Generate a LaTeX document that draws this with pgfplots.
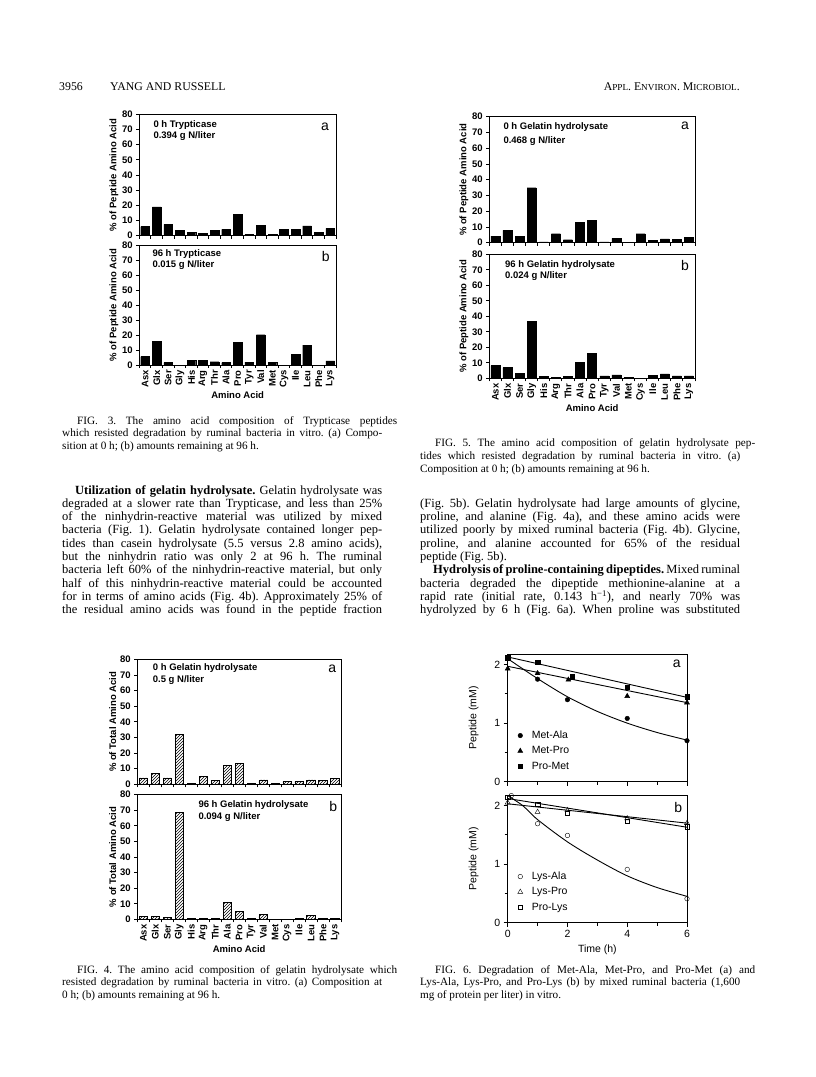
\documentclass[border=0pt]{standalone}
\usepackage{fontspec}
\setmainfont{Liberation Serif}
\newfontfamily\chartfont{Liberation Sans}
\usepackage{pgfplots}
\pgfplotsset{compat=1.18}
\usetikzlibrary{patterns}
\frenchspacing
\newcommand\cf{\chartfont\bfseries\fontsize{9.5}{11}\selectfont}
\newcommand\cfr{\chartfont\fontsize{10.5}{12}\selectfont}
\newcommand\lf{\chartfont\fontsize{14}{14}\selectfont}
\newcommand\bodyf{\frenchspacing\fontsize{12.5}{13.3}\selectfont}
\newcommand\capf{\frenchspacing\fontsize{11.2}{12.5}\selectfont}
\newcommand\JL[3]{\node[anchor=base west,inner sep=0pt,font=\bodyf] at (#1pt,-#2pt) {\makebox[320pt][s]{#3}};}
\newcommand\LL[3]{\node[anchor=base west,inner sep=0pt,font=\bodyf] at (#1pt,-#2pt) {#3};}
\newcommand\JC[3]{\node[anchor=base west,inner sep=0pt,font=\capf] at (#1pt,-#2pt) {\makebox[320pt][s]{#3}};}
\newcommand\LC[3]{\node[anchor=base west,inner sep=0pt,font=\capf] at (#1pt,-#2pt) {#3};}
\newcommand\CT[3]{\node[anchor=west,inner sep=0pt,font=\cf] at (#1pt,-#2pt) {#3};}
\newcommand\PL[3]{\node[anchor=center,inner sep=0pt,font=\lf] at (#1pt,-#2pt) {#3};}

\pgfplotsset{
 barbase/.style={
   scale only axis,
   xmin=0.5, xmax=17.5, ymin=0, ymax=80,
   ytick={0,10,...,80},
   xtick={1,...,17},
   minor xtick={0.5,1.5,...,17.5},
   major x tick style={draw=none},
   tick align=outside, xtick pos=bottom, ytick pos=left,
   major tick length=3pt, minor tick length=3pt,
   tick style={black, line width=0.9pt},
   axis line style={line width=1pt},
   ybar, bar width=8.7pt,
   tick label style={font=\cf},
   /pgf/number format/assume math mode=true,
   label style={font=\cf},
   ylabel style={yshift=-3pt},
   xticklabel style={inner sep=2pt},
 },
 nolab/.style={xticklabels={}},
 aalab/.style={xticklabels={Asx,Glx,Ser,Gly,His,Arg,Thr,Ala,Pro,Tyr,Val,Met,Cys,Ile,Leu,Phe,Lys},
    xticklabel style={rotate=90, anchor=east}, xlabel={Amino Acid}, xlabel style={yshift=2pt}},
 linebase/.style={
   scale only axis, width=179.3pt, height=127.7pt,
   xmin=0, xmax=6, ymin=0, ymax=2.18,
   xtick={0,2,4,6}, minor xtick={1,3,5},
   ytick={0,1,2}, minor ytick={0.5,1.5},
   tick align=outside, xtick pos=bottom, ytick pos=left,
   major tick length=4pt, minor tick length=3pt,
   tick style={black, line width=0.9pt},
   axis line style={line width=1pt},
   tick label style={font=\cfr},
   /pgf/number format/assume math mode=true,
   label style={font=\cfr},
   ylabel style={yshift=9pt},
   clip=false,
   legend style={draw=none, fill=none, font=\cfr, row sep=2.5pt, inner sep=0pt,
      cells={anchor=west}, at={(0.055,0.07)}, anchor=south west},
   legend cell align=left,
   legend image code/.code={\draw[#1] plot coordinates {(0pt,0pt)};},
   /tikz/every odd column/.style={column sep=7pt},
 },
}

\begin{document}
\begin{tikzpicture}[x=1pt,y=1pt]
\path[use as bounding box, fill=white] (0,0) rectangle (816,-1077);

% ---------------- header
\node[anchor=base west,inner sep=0pt,font=\fontsize{11.8}{13}\selectfont] at (59,-90) {3956};
\node[anchor=base west,inner sep=0pt,font=\fontsize{11.8}{13}\selectfont] at (110,-90) {YANG AND RUSSELL};
\node[anchor=base east,inner sep=0pt,font=\fontsize{11.8}{13}\selectfont] at (740,-90) {A{\fontsize{9.2}{10}\selectfont PPL}. E{\fontsize{9.2}{10}\selectfont NVIRON}. M{\fontsize{9.2}{10}\selectfont ICROBIOL}.};

% ---------------- FIG 3a
\begin{axis}[barbase, nolab, at={(139.3pt,-235.7pt)}, anchor=south west,
  width=196.7pt, height=121.4pt, ylabel={\% of Peptide Amino Acid}]
\addplot[fill=black, draw=black] coordinates {(1,6) (2,19) (3,7.5) (4,3.3) (5,2) (6,1.5) (7,3.7) (8,4.2) (9,14.3) (10,0.9) (11,6.8) (12,0.9) (13,4.2) (14,4.2) (15,6.4) (16,2) (17,4.8)};
\end{axis}
% ---------------- FIG 3b
\begin{axis}[barbase, aalab, at={(139.3pt,-365pt)}, anchor=south west,
  width=196.7pt, height=120pt, ylabel={\% of Peptide Amino Acid}]
\addplot[fill=black, draw=black] coordinates {(1,5.6) (2,16) (3,1.6) (4,0) (5,3.3) (6,2.9) (7,2.2) (8,1.6) (9,15.1) (10,2) (11,20.2) (12,2) (13,0) (14,7.1) (15,13.3) (16,0) (17,2.7)};
\end{axis}
\CT{153.3}{125}{0 h Trypticase}
\CT{153.3}{136}{0.394 g N/liter}
\PL{325}{127}{a}
\CT{152.3}{254.3}{96 h Trypticase}
\CT{152.3}{265}{0.015 g N/liter}
\PL{325.7}{256.5}{b}

% ---------------- FIG 5a
\begin{axis}[barbase, nolab, at={(489.3pt,-242.7pt)}, anchor=south west,
  width=205.7pt, height=126pt, bar width=9pt, ylabel={\% of Peptide Amino Acid}]
\addplot[fill=black, draw=black] coordinates {(1,4.2) (2,7.8) (3,4.2) (4,34.9) (5,0.6) (6,5.7) (7,1.9) (8,12.9) (9,14) (10,0.6) (11,2.8) (12,0) (13,5.7) (14,1.3) (15,2.5) (16,2.1) (17,3.4)};
\end{axis}
% ---------------- FIG 5b
\begin{axis}[barbase, aalab, at={(489.3pt,-378.3pt)}, anchor=south west,
  width=205.7pt, height=124pt, bar width=9pt, ylabel={\% of Peptide Amino Acid}]
\addplot[fill=black, draw=black] coordinates {(1,8.2) (2,6.9) (3,3) (4,36.6) (5,1.1) (6,0.4) (7,1.1) (8,10.5) (9,16.3) (10,1.5) (11,2.2) (12,0.4) (13,0) (14,1.9) (15,2.8) (16,1.5) (17,1.5)};
\end{axis}
\CT{503.3}{126.7}{0 h Gelatin hydrolysate}
\CT{503.3}{141}{0.468 g N/liter}
\PL{685}{126}{a}
\CT{505}{265}{96 h Gelatin hydrolysate}
\CT{505}{276.5}{0.024 g N/liter}
\PL{685}{265}{b}

% ---------------- captions fig 3 / fig 5
\JC{77}{424}{FIG. 3. The amino acid composition of Trypticase peptides}
\JC{62}{436.5}{which resisted degradation by ruminal bacteria in vitro. (a) Compo-}
\LC{62}{449}{sition at 0 h; (b) amounts remaining at 96 h.}
\JC{435}{446}{FIG. 5. The amino acid composition of gelatin hydrolysate pep-}
\JC{420}{459}{tides which resisted degradation by ruminal bacteria in vitro. (a)}
\LC{420}{472}{Composition at 0 h; (b) amounts remaining at 96 h.}

% ---------------- body text
\JL{62}{494}{\hspace{13pt}\textbf{Utilization of gelatin hydrolysate.} Gelatin hydrolysate was}
\JL{62}{507.3}{degraded at a slower rate than Trypticase, and less than 25\%}
\JL{62}{520.6}{of the ninhydrin-reactive material was utilized by mixed}
\JL{62}{533.9}{bacteria (Fig. 1). Gelatin hydrolysate contained longer pep-}
\JL{62}{547.2}{tides than casein hydrolysate (5.5 versus 2.8 amino acids),}
\JL{62}{560.5}{but the ninhydrin ratio was only 2 at 96 h. The ruminal}
\JL{62}{573.8}{bacteria left 60\% of the ninhydrin-reactive material, but only}
\JL{62}{587.1}{half of this ninhydrin-reactive material could be accounted}
\JL{62}{600.4}{for in terms of amino acids (Fig. 4b). Approximately 25\% of}
\JL{62}{613.7}{the residual amino acids was found in the peptide fraction}

\JL{420}{507.3}{(Fig. 5b). Gelatin hydrolysate had large amounts of glycine,}
\JL{420}{520.6}{proline, and alanine (Fig. 4a), and these amino acids were}
\JL{420}{533.9}{utilized poorly by mixed ruminal bacteria (Fig. 4b). Glycine,}
\JL{420}{547.2}{proline, and alanine accounted for 65\% of the residual}
\LL{420}{560.5}{peptide (Fig. 5b).}
\JL{420}{573.8}{\hspace{13pt}\textbf{Hydrolysis of proline-containing dipeptides.} Mixed ruminal}
\JL{420}{587.1}{bacteria degraded the dipeptide methionine-alanine at a}
\JL{420}{600.4}{rapid rate (initial rate, 0.143 h\textsuperscript{−1}), and nearly 70\% was}
\JL{420}{613.7}{hydrolyzed by 6 h (Fig. 6a). When proline was substituted}

% ---------------- FIG 4a
\begin{axis}[barbase, nolab, at={(137.3pt,-784.3pt)}, anchor=south west,
  width=203.7pt, height=124.8pt, bar width=8.3pt, ylabel={\% of Total Amino Acid}]
\addplot[pattern=north east lines, draw=black, line width=0.8pt] coordinates {(1,4.1) (2,7) (3,4.1) (4,32.1) (5,0.7) (6,5.2) (7,2.2) (8,11.9) (9,13.2) (10,0.7) (11,2.8) (12,0.7) (13,1.6) (14,1.6) (15,2.8) (16,2.2) (17,3.7)};
\end{axis}
% ---------------- FIG 4b
\begin{axis}[barbase, aalab, at={(137.3pt,-919.3pt)}, anchor=south west,
  width=203.7pt, height=124.6pt, bar width=8.3pt, ylabel={\% of Total Amino Acid}]
\addplot[pattern=north east lines, draw=black, line width=0.8pt] coordinates {(1,2.1) (2,2.1) (3,1.3) (4,68.9) (5,0.4) (6,0.4) (7,0.4) (8,11.1) (9,4.9) (10,0.4) (11,3) (12,0) (13,0) (14,0.4) (15,2.4) (16,0.4) (17,0.4)};
\end{axis}
\CT{152.7}{668.3}{0 h Gelatin hydrolysate}
\CT{152.7}{680}{0.5 g N/liter}
\PL{332.3}{668.3}{a}
\CT{198.3}{805}{96 h Gelatin hydrolysate}
\CT{198.3}{817.3}{0.094 g N/liter}
\PL{333.3}{806}{b}

% ---------------- FIG 6a
\begin{axis}[linebase, xticklabels={}, at={(507.7pt,-781.7pt)}, anchor=south west,
  ylabel={Peptide (mM)}]
\addplot[only marks, mark=*, mark size=2.3pt] coordinates {(0,2.10) (1,1.75) (2,1.40) (4,1.08) (6,0.70)};
\addlegendentry{Met-Ala}
\addplot[only marks, mark=triangle*, mark size=2.9pt] coordinates {(0,1.93) (1,1.85) (2.03,1.74) (4,1.46) (6,1.35)};
\addlegendentry{Met-Pro}
\addplot[only marks, mark=square*, mark size=2.2pt] coordinates {(0,2.12) (1,2.04) (2.16,1.79) (4,1.61) (6,1.45)};
\addlegendentry{Pro-Met}
\addplot[smooth, black, line width=0.9pt, forget plot] coordinates {(0,2.10) (1,1.76) (2,1.45) (3,1.20) (4,1.00) (5,0.84) (6,0.71)};
\addplot[black, line width=0.9pt, forget plot] coordinates {(0,1.97) (6,1.35)};
\addplot[black, line width=0.9pt, forget plot] coordinates {(0,2.13) (6,1.44)};
\end{axis}
% ---------------- FIG 6b
\begin{axis}[linebase, at={(507.7pt,-922.7pt)}, anchor=south west,
  ylabel={Peptide (mM)}, xlabel={Time (h)}]
\addplot[only marks, mark=o, mark size=2.3pt, fill=white] coordinates {(0.12,2.17) (1,1.69) (2,1.49) (4,0.91) (6,0.41)};
\addlegendentry{Lys-Ala}
\addplot[only marks, mark=triangle, mark size=2.9pt, fill=white] coordinates {(0,2.05) (1,1.89) (2,1.92) (4,1.78) (6,1.70)};
\addlegendentry{Lys-Pro}
\addplot[only marks, mark=square, mark size=2.2pt, fill=white] coordinates {(0,2.14) (1,2.02) (2,1.87) (4,1.73) (6,1.64)};
\addlegendentry{Pro-Lys}
\addplot[smooth, black, line width=0.9pt, forget plot] coordinates {(0,2.17) (0.5,2.00) (1,1.76) (2,1.38) (3,1.07) (4,0.80) (5,0.60) (6,0.45)};
\addplot[black, line width=0.9pt, forget plot] coordinates {(0,2.03) (6,1.70)};
\addplot[black, line width=0.9pt, forget plot] coordinates {(0,2.12) (6,1.63)};
\end{axis}
\PL{676.7}{663.3}{a}
\PL{678.3}{807.7}{b}

% ---------------- captions fig 4 / fig 6
\JC{77}{973}{FIG. 4. The amino acid composition of gelatin hydrolysate which}
\JC{62}{985.5}{resisted degradation by ruminal bacteria in vitro. (a) Composition at}
\LC{62}{998}{0 h; (b) amounts remaining at 96 h.}
\JC{435}{973}{FIG. 6. Degradation of Met-Ala, Met-Pro, and Pro-Met (a) and}
\JC{420}{985.5}{Lys-Ala, Lys-Pro, and Pro-Lys (b) by mixed ruminal bacteria (1,600}
\LC{420}{998}{mg of protein per liter) in vitro.}
\end{tikzpicture}
\end{document}
